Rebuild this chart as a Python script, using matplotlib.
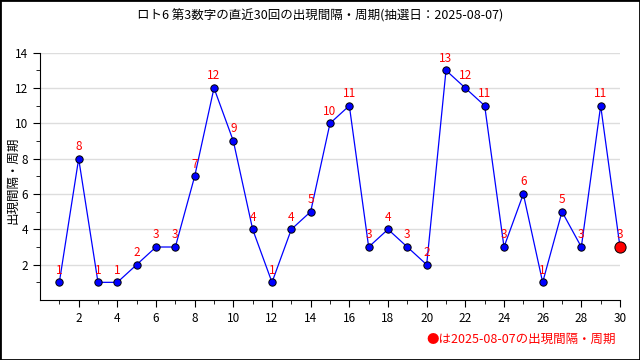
import matplotlib.pyplot as plt
from matplotlib.patches import Rectangle

plt.rcParams['font.family'] = ['Noto Sans CJK JP', 'DejaVu Sans']

draws = list(range(1, 31))
intervals = [1, 8, 1, 1, 2, 3, 3, 7, 12, 9, 4, 1, 4, 5, 10, 11, 3, 4, 3, 2,
             13, 12, 11, 3, 6, 1, 5, 3, 11, 3]
title = 'ロト6 第3数字の直近30回の出現間隔・周期(抽選日：2025-08-07)'
note = '●は2025-08-07の出現間隔・周期'

fig = plt.figure(figsize=(6.4, 3.6), dpi=100)
ax = fig.add_axes([40 / 640, 1 - 300 / 360, 580 / 640, (300 - 52.7) / 360])

ax.plot(draws, intervals, color='blue', linewidth=0.9, zorder=2)
ax.scatter(draws[:-1], intervals[:-1], s=28, color='blue', edgecolors='black',
           linewidths=0.7, zorder=3)
ax.scatter(draws[-1:], intervals[-1:], s=65, color='red', edgecolors='black',
           linewidths=0.7, zorder=4, clip_on=False)
for x, y in zip(draws, intervals):
    ax.annotate(str(y), (x, y), xytext=(0, 4), textcoords='offset points',
                ha='center', va='bottom', color='red', fontsize=8.5)

ax.set_xlim(0, 30)
ax.set_ylim(0, 14)
ax.set_xticks(list(range(2, 31, 2)))
ax.set_xticks(list(range(1, 30, 2)), minor=True)
ax.set_yticks(list(range(2, 15, 2)))
ax.set_yticks(list(range(1, 14, 2)), minor=True)
ax.tick_params(which='both', direction='out', labelsize=8.5, color='black')
ax.tick_params(which='major', length=5)
ax.tick_params(which='minor', length=3)
ax.grid(axis='y', which='major', color='#dddddd', linewidth=1)
ax.set_axisbelow(True)
for s in ['top', 'right']:
    ax.spines[s].set_visible(False)

fig.text(13 / 640, 0.5, '出現間隔・周期', rotation=90, ha='center', va='center',
         fontsize=9)
fig.text(0.5, 0.955, title, ha='center', va='center', fontsize=9)
fig.text(0.963, 0.058, note, ha='right', va='center', fontsize=9, color='red')

fig.patches.append(Rectangle((0, 0), 1, 1, transform=fig.transFigure,
                             fill=False, edgecolor='black', linewidth=2))
fig.savefig('out.png', dpi=100)
